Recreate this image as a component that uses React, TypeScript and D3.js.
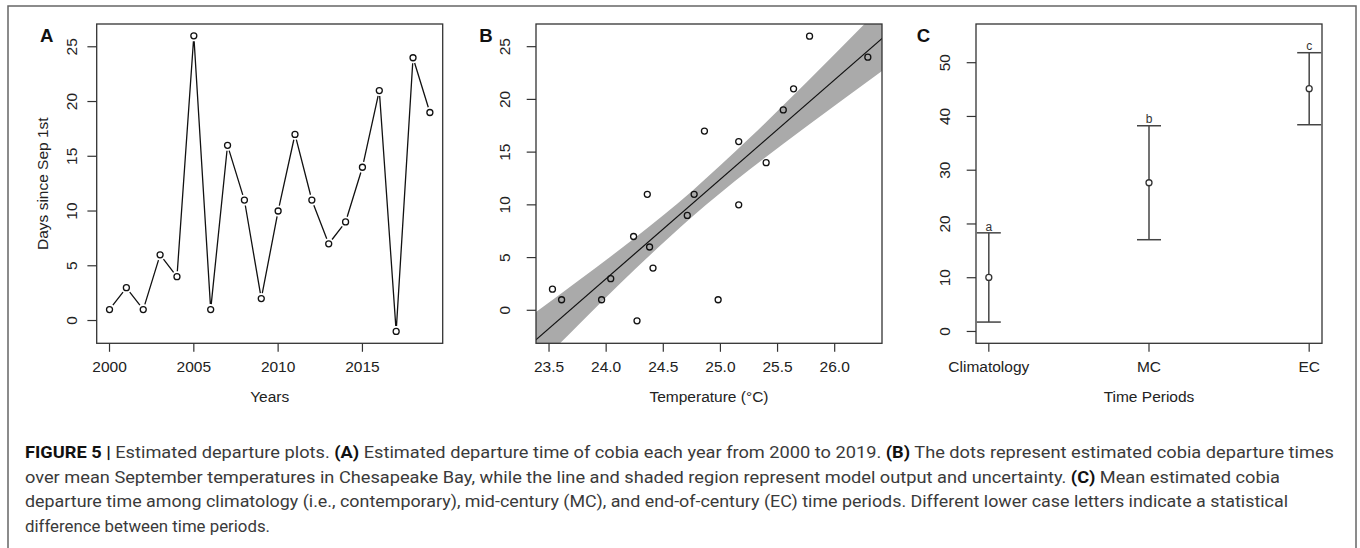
import React from "react";
import * as d3 from "d3";

// ── Data ──────────────────────────────────────────────────────────────────────

const years = [2000, 2001, 2002, 2003, 2004, 2005, 2006, 2007, 2008, 2009, 2010, 2011, 2012, 2013, 2014, 2015, 2016, 2017, 2018, 2019];
const departureDays = [1, 3, 1, 6, 4, 26, 1, 16, 11, 2, 10, 17, 11, 7, 9, 14, 21, -1, 24, 19];

const temps = [23.53, 23.61, 23.96, 24.04, 24.27, 24.38, 24.41, 24.98, 24.24, 24.36, 24.71, 24.77, 24.86, 25.16, 25.16, 25.4, 25.55, 25.64, 25.78, 26.29];
const tempDays = [2, 1, 1, 3, -1, 6, 4, 1, 7, 11, 9, 11, 17, 10, 16, 14, 19, 21, 26, 24];

// model fit + uncertainty band
const fitT = [23.3, 26.5];
const fitY = [-3.6, 26.58];
const bandT = [23.3, 23.75, 24.25, 24.75, 25.25, 25.75, 26.5];
const bandLo = [-6.35, -1.46, 3.86, 8.85, 13.3, 17.41, 23.38];
const bandHi = [-0.84, 2.75, 6.86, 11.3, 16.28, 21.59, 29.78];

const periods = ["Climatology", "MC", "EC"];
const periodMean = [10.05, 27.67, 45.16];
const periodLo = [1.75, 17.07, 38.46];
const periodHi = [18.35, 38.27, 51.86];
const periodLetters = ["a", "b", "c"];

const yearTicks = [2000, 2005, 2010, 2015];
const dayTicks = [0, 5, 10, 15, 20, 25];
const tempTicks = [23.5, 24.0, 24.5, 25.0, 25.5, 26.0];
const periodTicks = [0, 10, 20, 30, 40, 50];

// ── Layout ────────────────────────────────────────────────────────────────────

const W = 1360;
const H = 548;
const TOP = 24;
const BOTTOM = 343.3;
const FONT = "'Liberation Sans', Arial, Helvetica, sans-serif";
const TICK_FS = 15.5;
const TICK = 8.5;
const AXIS = "#333";

const xA = d3.scaleLinear().domain([2000 - 0.76, 2019 + 0.76]).range([96.7, 442.7]);
const yA = d3.scaleLinear().domain([-2.08, 27.08]).range([BOTTOM, TOP]);
const xB = d3.scaleLinear().domain([23.386, 26.414]).range([536, 882]);
const yB = d3.scaleLinear().domain([-3.13, 27.15]).range([BOTTOM, TOP]);
const xC = d3.scaleLinear().domain([0.92, 3.08]).range([976, 1322]);
const yC = d3.scaleLinear().domain([-2.2, 57.2]).range([BOTTOM, TOP]);

// ── Small pieces ──────────────────────────────────────────────────────────────

function Frame({ x0, x1 }: { x0: number; x1: number }) {
  return (
    <rect x={x0} y={TOP} width={x1 - x0} height={BOTTOM - TOP} fill="none" stroke={AXIS} strokeWidth={1.3} />
  );
}

function YTicks({ scale, ticks, x0, labelX }: { scale: d3.ScaleLinear<number, number>; ticks: number[]; x0: number; labelX: number }) {
  return (
    <g>
      {ticks.map((t) => (
        <g key={t}>
          <line x1={x0 - TICK - 0.8} x2={x0} y1={scale(t)} y2={scale(t)} stroke={AXIS} strokeWidth={1.2} />
          <text
            transform={`translate(${labelX},${scale(t)}) rotate(-90)`}
            textAnchor="middle"
            fontSize={TICK_FS}
            fill="#222"
          >
            {t}
          </text>
        </g>
      ))}
    </g>
  );
}

function XTicks({ pos, labels }: { pos: number[]; labels: string[] }) {
  return (
    <g>
      {pos.map((p, i) => (
        <g key={i}>
          <line x1={p} x2={p} y1={BOTTOM} y2={BOTTOM + TICK} stroke={AXIS} strokeWidth={1.2} />
          <text x={p} y={371.7} textAnchor="middle" fontSize={TICK_FS} fill="#222">
            {labels[i]}
          </text>
        </g>
      ))}
    </g>
  );
}

// line segments with gaps around the points (R type = "b")
function gappedSegments(pts: [number, number][], gap: number) {
  const segs: string[] = [];
  for (let i = 0; i < pts.length - 1; i++) {
    const [x0, y0] = pts[i];
    const [x1, y1] = pts[i + 1];
    const d = Math.hypot(x1 - x0, y1 - y0);
    if (d <= gap * 2) continue;
    const ux = (x1 - x0) / d;
    const uy = (y1 - y0) / d;
    segs.push(`M${x0 + ux * gap},${y0 + uy * gap}L${x1 - ux * gap},${y1 - uy * gap}`);
  }
  return segs.join("");
}

// ── Caption ───────────────────────────────────────────────────────────────────

type Run = { t: string; b?: boolean };
const captionLines: { runs: Run[]; len: number }[] = [
  {
    len: 1309,
    runs: [
      { t: "FIGURE 5 |", b: true },
      { t: " Estimated departure plots. " },
      { t: "(A)", b: true },
      { t: " Estimated departure time of cobia each year from 2000 to 2019. " },
      { t: "(B)", b: true },
      { t: " The dots represent estimated cobia departure times" },
    ],
  },
  {
    len: 1255,
    runs: [
      { t: "over mean September temperatures in Chesapeake Bay, while the line and shaded region represent model output and uncertainty. " },
      { t: "(C)", b: true },
      { t: " Mean estimated cobia" },
    ],
  },
  {
    len: 1263,
    runs: [
      { t: "departure time among climatology (i.e., contemporary), mid-century (MC), and end-of-century (EC) time periods. Different lower case letters indicate a statistical" },
    ],
  },
  { len: 245, runs: [{ t: "difference between time periods." }] },
];

// ── App ───────────────────────────────────────────────────────────────────────

export default function App() {
  const ptsA: [number, number][] = years.map((yr, i) => [xA(yr), yA(departureDays[i])]);

  const band = d3
    .area<number>()
    .x((_, i) => xB(bandT[i]))
    .y0((_, i) => yB(bandLo[i]))
    .y1((_, i) => yB(bandHi[i]))
    .curve(d3.curveMonotoneX)(bandT);

  const fit = d3
    .line<number>()
    .x((_, i) => xB(fitT[i]))
    .y((d) => yB(d))(fitY);

  const CAP = 12;

  return (
    <svg
      width={W}
      height={H}
      style={{ position: "absolute", left: 0, top: 0, background: "#fff" }}
      fontFamily={FONT}
    >
      <defs>
        <clipPath id="clipB">
          <rect x={536} y={TOP} width={346} height={BOTTOM - TOP} />
        </clipPath>
      </defs>
      <rect x={0} y={0} width={W} height={H} fill="#fff" />
      {/* outer figure border */}
      <rect x={8} y={6} width={1348} height={560} fill="none" stroke="#666" strokeWidth={1.5} />

      {/* ── Panel A ── */}
      <text x={40} y={41.7} fontSize={18.6} fontWeight={700} fill="#111">A</text>
      <path d={gappedSegments(ptsA, 5.5)} fill="none" stroke="#111" strokeWidth={1.3} />
      {ptsA.map(([x, y], i) => (
        <circle key={i} cx={x} cy={y} r={3} fill="none" stroke="#111" strokeWidth={1.3} />
      ))}
      <Frame x0={96.7} x1={442.7} />
      <YTicks scale={yA} ticks={dayTicks} x0={96.7} labelX={77.3} />
      <XTicks pos={yearTicks.map((t) => xA(t))} labels={yearTicks.map(String)} />
      <text x={(96.7 + 442.7) / 2} y={401.7} textAnchor="middle" fontSize={TICK_FS} fill="#222">Years</text>
      <text transform={`translate(48,${(TOP + BOTTOM) / 2}) rotate(-90)`} textAnchor="middle" fontSize={TICK_FS} fill="#222">
        Days since Sep 1st
      </text>

      {/* ── Panel B ── */}
      <text x={479.3} y={41.7} fontSize={18.6} fontWeight={700} fill="#111">B</text>
      <g clipPath="url(#clipB)">
        <path d={band ?? ""} fill="#aaaaaa" stroke="none" />
        <path d={fit ?? ""} fill="none" stroke="#111" strokeWidth={1.2} />
      </g>
      {temps.map((t, i) => (
        <circle key={i} cx={xB(t)} cy={yB(tempDays[i])} r={3} fill="none" stroke="#111" strokeWidth={1.3} />
      ))}
      <Frame x0={536} x1={882} />
      <YTicks scale={yB} ticks={dayTicks} x0={536} labelX={510} />
      <XTicks pos={tempTicks.map((t) => xB(t))} labels={tempTicks.map((t) => t.toFixed(1))} />
      <text x={709} y={401.7} textAnchor="middle" fontSize={TICK_FS} fill="#222">Temperature (°C)</text>

      {/* ── Panel C ── */}
      <text x={916.7} y={41.7} fontSize={18.6} fontWeight={700} fill="#111">C</text>
      {periods.map((p, i) => {
        const cx = xC(i + 1);
        return (
          <g key={p}>
            <line x1={cx} x2={cx} y1={yC(periodLo[i])} y2={yC(periodHi[i])} stroke="#444" strokeWidth={1.5} />
            <line x1={cx - CAP} x2={cx + CAP} y1={yC(periodHi[i])} y2={yC(periodHi[i])} stroke="#444" strokeWidth={1.5} />
            <line x1={cx - CAP} x2={cx + CAP} y1={yC(periodLo[i])} y2={yC(periodLo[i])} stroke="#444" strokeWidth={1.5} />
            <circle cx={cx} cy={yC(periodMean[i])} r={3} fill="#fff" stroke="#333" strokeWidth={1.3} />
            <text x={cx} y={yC(periodHi[i]) - 2.3} textAnchor="middle" fontSize={12} fill="#333">
              {periodLetters[i]}
            </text>
          </g>
        );
      })}
      <Frame x0={976} x1={1322} />
      <YTicks scale={yC} ticks={periodTicks} x0={976} labelX={950} />
      <XTicks pos={periods.map((_, i) => xC(i + 1))} labels={periods} />
      <text x={1149} y={401.7} textAnchor="middle" fontSize={TICK_FS} fill="#222">Time Periods</text>

      {/* ── Caption ── */}
      {captionLines.map((ln, i) => (
        <text
          key={i}
          x={25}
          y={458.3 + i * 24.5}
          fontSize={16}
          fill="#3a3a3a"
          textLength={ln.len}
          lengthAdjust="spacingAndGlyphs"
          fontFamily={"Roboto, 'Liberation Sans', Arial, sans-serif"}
        >
          {ln.runs.map((r, j) => (
            <tspan key={j} fontWeight={r.b ? 700 : 400} fill={r.b ? "#111" : "#3a3a3a"}>
              {r.t}
            </tspan>
          ))}
        </text>
      ))}
    </svg>
  );
}
